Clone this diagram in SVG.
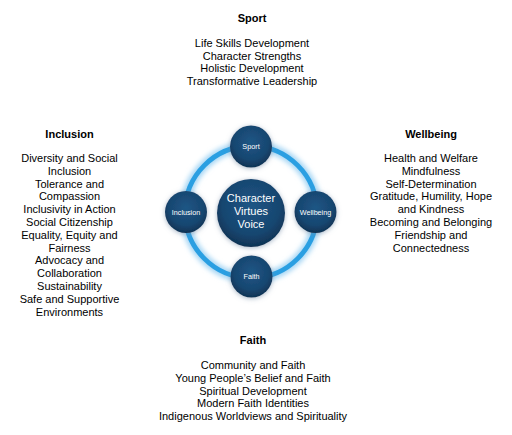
<svg xmlns="http://www.w3.org/2000/svg" width="512" height="435" viewBox="0 0 512 435">
<style>
  .t { font-family: "Liberation Sans", Arial, sans-serif; font-size: 11px; fill: #000; text-anchor: middle; }
  .h { font-weight: bold; }
  .w { font-family: "Liberation Sans", Arial, sans-serif; fill: #fff; text-anchor: middle; }
  .node { fill: url(#navy); filter: url(#halo); }
</style>
<defs>
  <radialGradient id="navy" cx="50%" cy="40%" r="60%">
    <stop offset="0" stop-color="#1f5685"/>
    <stop offset="0.7" stop-color="#174670"/>
    <stop offset="1" stop-color="#0f3354"/>
  </radialGradient>
  <filter id="halo" x="-40%" y="-40%" width="180%" height="180%">
    <feDropShadow dx="0" dy="1" stdDeviation="2.5" flood-color="#6f8aa6" flood-opacity="0.6"/>
  </filter>
  <filter id="glow" x="-30%" y="-30%" width="160%" height="160%">
    <feGaussianBlur stdDeviation="2.5"/>
  </filter>
</defs>
<rect width="512" height="435" fill="#fff"/>

<g id="connectors">
  <circle cx="251" cy="212" r="66" fill="none" stroke="#a6d6f4" stroke-width="10" filter="url(#glow)"/>
  <circle cx="251" cy="212" r="66" fill="none" stroke="#2a9fe2" stroke-width="4.8"/>
</g>

<g id="node-center">
  <circle class="node" cx="251" cy="213" r="34"/>
  <text class="w" x="251" y="201.5" font-size="11">Character</text>
  <text class="w" x="251" y="214.5" font-size="11">Virtues</text>
  <text class="w" x="251" y="227.5" font-size="11">Voice</text>
</g>
<g id="node-sport">
  <circle class="node" cx="251" cy="146.5" r="21"/>
  <text class="w" x="251" y="149" font-size="7.3">Sport</text>
</g>
<g id="node-inclusion">
  <circle class="node" cx="186" cy="212" r="21"/>
  <text class="w" x="186" y="214.5" font-size="7.2">Inclusion</text>
</g>
<g id="node-wellbeing">
  <circle class="node" cx="315.5" cy="212" r="21"/>
  <text class="w" x="315.5" y="214.5" font-size="7.2">Wellbeing</text>
</g>
<g id="node-faith">
  <circle class="node" cx="251.5" cy="276.5" r="21"/>
  <text class="w" x="251.5" y="279" font-size="7.2">Faith</text>
</g>

<g id="sport-list">
  <text class="t h" x="252" y="22">Sport</text>
  <text class="t" x="252" y="47">Life Skills Development</text>
  <text class="t" x="252" y="59.7">Character Strengths</text>
  <text class="t" x="252" y="72.4">Holistic Development</text>
  <text class="t" x="252" y="85.2">Transformative Leadership</text>
</g>

<g id="inclusion-list">
  <text class="t h" x="69.5" y="138">Inclusion</text>
  <text class="t" x="69.5" y="162">Diversity and Social</text>
  <text class="t" x="69.5" y="174.8">Inclusion</text>
  <text class="t" x="69.5" y="187.6">Tolerance and</text>
  <text class="t" x="69.5" y="200.4">Compassion</text>
  <text class="t" x="69.5" y="213.2">Inclusivity in Action</text>
  <text class="t" x="69.5" y="226">Social Citizenship</text>
  <text class="t" x="69.5" y="238.8">Equality, Equity and</text>
  <text class="t" x="69.5" y="251.6">Fairness</text>
  <text class="t" x="69.5" y="264.4">Advocacy and</text>
  <text class="t" x="69.5" y="277.2">Collaboration</text>
  <text class="t" x="69.5" y="290">Sustainability</text>
  <text class="t" x="69.5" y="302.8">Safe and Supportive</text>
  <text class="t" x="69.5" y="315.6">Environments</text>
</g>

<g id="wellbeing-list">
  <text class="t h" x="431" y="138">Wellbeing</text>
  <text class="t" x="431" y="162">Health and Welfare</text>
  <text class="t" x="431" y="174.8">Mindfulness</text>
  <text class="t" x="431" y="187.6">Self-Determination</text>
  <text class="t" x="431" y="200.4">Gratitude, Humility, Hope</text>
  <text class="t" x="431" y="213.2">and Kindness</text>
  <text class="t" x="431" y="226">Becoming and Belonging</text>
  <text class="t" x="431" y="238.8">Friendship and</text>
  <text class="t" x="431" y="251.6">Connectedness</text>
</g>

<g id="faith-list">
  <text class="t h" x="253" y="343.5">Faith</text>
  <text class="t" x="253" y="369">Community and Faith</text>
  <text class="t" x="253" y="381.8">Young People’s Belief and Faith</text>
  <text class="t" x="253" y="394.6">Spiritual Development</text>
  <text class="t" x="253" y="407.4">Modern Faith Identities</text>
  <text class="t" x="253" y="420.2">Indigenous Worldviews and Spirituality</text>
</g>
</svg>
